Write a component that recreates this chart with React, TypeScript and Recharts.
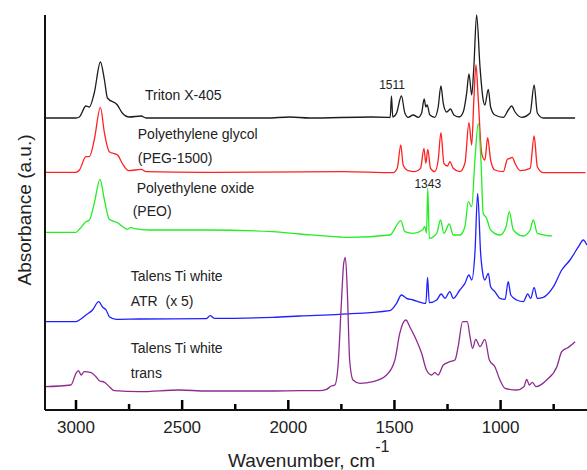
import React from 'react'
import { LineChart, Line, XAxis, YAxis, ReferenceDot, ReferenceLine, Label } from 'recharts'

// wavenumber (cm-1), stacked absorbance (a.u., offset included)
const tritonData: [number, number][] = [
  [3146, 290], [3000, 290], [2984, 291], [2953, 302], [2937, 301], [2914, 315], [2885, 346],
  [2866, 328], [2852, 310], [2805, 303], [2782, 295], [2749, 291], [2693, 292], [2670, 290],
  [2100, 290], [1994, 291], [1900, 290], [1608, 291], [1530, 290.7], [1520, 290.5], [1514, 312],
  [1508, 291], [1490, 295], [1467, 312], [1451, 295], [1435, 290.7], [1412, 293], [1388, 290.7],
  [1372, 295], [1360, 309], [1352, 301], [1346, 303], [1333, 293], [1310, 290.7], [1294, 301],
  [1281, 322], [1270, 304.7], [1254, 296], [1236, 299], [1220, 293], [1195, 291], [1176, 296],
  [1160, 314.7], [1149, 334], [1136, 313], [1126, 341], [1113, 393], [1097, 341], [1082, 308],
  [1074, 303], [1058, 318.7], [1047, 301], [1027, 293], [987, 290.7], [964, 298], [948, 302],
  [932, 296], [900, 290.7], [861, 295], [842, 323], [827, 295], [799, 290], [649, 290],
]

const pegData: [number, number][] = [
  [3146, 235.7], [3000, 235.7], [2984, 238], [2953, 251.3], [2937, 251.3], [2914, 268],
  [2885, 300.7], [2866, 275], [2843, 256.3], [2804, 253], [2783, 245], [2752, 237.3],
  [2693, 238.7], [2670, 236.3], [2400, 235.7], [1742, 236.3], [1506, 235.3], [1487, 239.7],
  [1470, 263], [1459, 243], [1435, 237.3], [1404, 236.3], [1377, 239.7], [1361, 259.7],
  [1352, 244.7], [1343, 258.7], [1330, 239.7], [1310, 236.3], [1294, 248], [1281, 275.3],
  [1267, 244.7], [1250, 242], [1239, 246.3], [1223, 239.7], [1192, 236.3], [1168, 244.7],
  [1149, 285.3], [1136, 263], [1126, 308], [1116, 343], [1105, 308], [1089, 254.7], [1074, 248],
  [1061, 270.3], [1047, 248], [1027, 238], [987, 236.3], [968, 248.7], [956, 249.7],
  [945, 250.7], [932, 244.7], [908, 237.3], [861, 239.7], [842, 272], [827, 241.3],
  [799, 235.3], [600, 235.3],
]

const peoData: [number, number][] = [
  [3146, 175.7], [3000, 175.7], [2984, 178.7], [2953, 186.3], [2937, 188], [2914, 204.7],
  [2887, 228.7], [2866, 208], [2843, 188.7], [2804, 185.3], [2780, 181.3], [2757, 178.7],
  [2741, 180.7], [2725, 179.3], [2654, 178], [2387, 178], [2074, 176.3], [1946, 174],
  [1758, 171], [1711, 170.7], [1522, 173], [1470, 187.3], [1451, 176.3], [1412, 174.7],
  [1368, 178], [1357, 181.3], [1349, 175], [1343, 219.7], [1336, 169.7], [1301, 174.7],
  [1283, 188], [1267, 174.7], [1242, 184], [1223, 173], [1192, 173], [1168, 181.3],
  [1152, 206.3], [1136, 201.3], [1121, 248], [1105, 284.7], [1092, 244.7], [1082, 194.7],
  [1066, 189.7], [1047, 178], [1003, 173], [974, 181.3], [959, 196.3], [940, 178],
  [893, 172], [861, 178], [846, 188], [827, 174.7], [759, 172],
]

const atrData: [number, number][] = [
  [3146, 86.3], [3000, 86.3], [2984, 88], [2953, 93], [2922, 98], [2893, 106.3], [2874, 100.7],
  [2858, 98], [2843, 91.3], [2811, 88.7], [2701, 89], [2387, 89.3], [2368, 92.3], [2348, 89.7],
  [2072, 90.7], [1946, 92], [1758, 93.7], [1522, 97.3], [1490, 104.7], [1467, 113],
  [1443, 109.7], [1412, 108], [1372, 105.3], [1352, 104.7], [1344, 130.7], [1336, 105.3],
  [1301, 108], [1280, 114], [1262, 109.7], [1239, 116.3], [1223, 109.7], [1192, 118],
  [1168, 124.7], [1149, 133], [1136, 128], [1121, 154.7], [1108, 214.7], [1094, 154.7],
  [1084, 134.7], [1074, 128], [1058, 134.7], [1047, 121.3], [1027, 116.3], [1003, 109.7],
  [979, 108.7], [964, 126.3], [952, 113], [924, 108], [893, 106.3], [872, 114], [858, 109.7],
  [842, 120.7], [827, 109.7], [799, 110.7], [751, 121.3], [712, 138], [673, 148], [633, 161.3],
  [610, 168], [594, 163],
]

const transData: [number, number][] = [
  [3146, 21.3], [3024, 23], [3000, 34.7], [2988, 37.3], [2976, 33], [2961, 36.3], [2929, 35.3],
  [2906, 31.3], [2890, 27.3], [2866, 25.7], [2843, 21.3], [2819, 17.3], [2701, 16.3],
  [2513, 18], [2387, 17], [2072, 17], [1946, 17.3], [1852, 17.3], [1820, 18.7], [1797, 22],
  [1781, 23], [1766, 41.3], [1750, 104.7], [1739, 144.7], [1731, 150.7], [1721, 111.3],
  [1711, 48], [1695, 28], [1663, 24.7], [1601, 26.3], [1537, 33], [1498, 48], [1475, 74.7],
  [1446, 88], [1428, 81.3], [1404, 71.3], [1372, 54.7], [1349, 38], [1325, 33], [1310, 35.3],
  [1294, 33], [1270, 43], [1239, 46.3], [1215, 48], [1200, 61.3], [1179, 86.3], [1157, 86.3],
  [1144, 71.3], [1132, 59.7], [1117, 68.7], [1097, 61.3], [1074, 68.7], [1053, 48], [1027, 41.3],
  [1003, 28], [979, 19.7], [924, 18], [890, 21.3], [877, 28.7], [865, 23], [850, 25.7],
  [833, 21.3], [783, 28], [735, 41.3], [712, 56.3], [704, 58], [688, 59.7], [649, 66.3],
]

const xTicks = [3000, 2750, 2500, 2250, 2000, 1750, 1500, 1250, 1000, 750]

// [wavenumber, absorbance, text]
const sampleLabels: [number, number, string][] = [
  [2675, 308, 'Triton X-405'],
  [2709, 268.7, 'Polyethylene glycol'],
  [2709, 245.3, '(PEG-1500)'],
  [2714, 215.3, 'Polyethylene oxide'],
  [2733, 192, '(PEO)'],
  [2742, 127.3, 'Talens Ti white'],
  [2742, 102, 'ATR\u00a0 (x 5)'],
  [2742, 54.7, 'Talens Ti white'],
  [2742, 29.7, 'trans'],
]

const peakLabels: [number, number, string][] = [
  [1511, 319, '1511'],
  [1343, 220, '1343'],
]

const series = [
  { key: 'triton', data: tritonData, color: '#1c1c1c' },
  { key: 'peg', data: pegData, color: '#ff2020' },
  { key: 'peo', data: peoData, color: '#22ee22' },
  { key: 'atr', data: atrData, color: '#2020ff' },
  { key: 'trans', data: transData, color: '#8e2b8e' },
]

const Y_MIN = -2
const FONT = 'Arial, "Liberation Sans", sans-serif'

function WnTick(props: any) {
  const { x, y, payload } = props
  if (payload.value % 500 !== 0) return <g />
  return (
    <text x={x} y={y + 22.7} textAnchor="middle" fontSize={17} fontFamily={FONT} fill="#222">
      {payload.value}
    </text>
  )
}

export default function App() {
  return (
    <div style={{ position: 'absolute', left: 0, top: 0, background: '#fff' }}>
      <LineChart width={587} height={470} margin={{ top: 15, right: 0, bottom: 0, left: 0 }}>
        <XAxis
          type="number"
          dataKey="wn"
          domain={[593, 3146]}
          reversed
          ticks={xTicks}
          interval={0}
          tick={<WnTick />}
          tickLine={false}
          tickSize={0}
          tickMargin={0}
          height={60}
          axisLine={{ stroke: '#111', strokeWidth: 2 }}
        >
          <Label
            content={() => (
              <text x={228} y={466.7} fontSize={19} fontFamily={FONT} fill="#222">
                Wavenumber, cm
                <tspan dy={-15} fontSize={16}>-1</tspan>
              </text>
            )}
          />
        </XAxis>
        <YAxis
          type="number"
          domain={[Y_MIN, 393]}
          width={45}
          tick={false}
          tickLine={false}
          axisLine={{ stroke: '#111', strokeWidth: 2 }}
        >
          <Label
            content={() => (
              <text
                transform="translate(31,210) rotate(-90)"
                textAnchor="middle"
                fontSize={19}
                fontFamily={FONT}
                fill="#222"
              >
                Absorbance (a.u.)
              </text>
            )}
          />
        </YAxis>
        {/* inward tick marks: long at labelled values, short in between */}
        {xTicks.map((t) => (
          <ReferenceLine
            key={'t' + t}
            segment={[{ x: t, y: Y_MIN }, { x: t, y: Y_MIN + (t % 500 === 0 ? 10 : 6) }]}
            stroke="#000"
            strokeWidth={2.5}
          />
        ))}
        {series.map((s) => (
          <Line
            key={s.key}
            data={s.data.map(([wn, v]) => ({ wn, v }))}
            dataKey="v"
            type="monotoneX"
            stroke={s.color}
            strokeWidth={1.3}
            dot={false}
            activeDot={false}
            isAnimationActive={false}
          />
        ))}
        {sampleLabels.map(([wn, v, text], i) => (
          <ReferenceDot
            key={'s' + i}
            x={wn}
            y={v}
            r={0}
            shape={(p: any) => (
              <text x={p.cx} y={p.cy} fontSize={14} fontFamily={FONT} fill="#222">
                {text}
              </text>
            )}
          />
        ))}
        {peakLabels.map(([wn, v, text], i) => (
          <ReferenceDot
            key={'p' + i}
            x={wn}
            y={v}
            r={0}
            shape={(p: any) => (
              <text x={p.cx} y={p.cy} textAnchor="middle" fontSize={12} fontFamily={FONT} fill="#222">
                {text}
              </text>
            )}
          />
        ))}
      </LineChart>
    </div>
  )
}
